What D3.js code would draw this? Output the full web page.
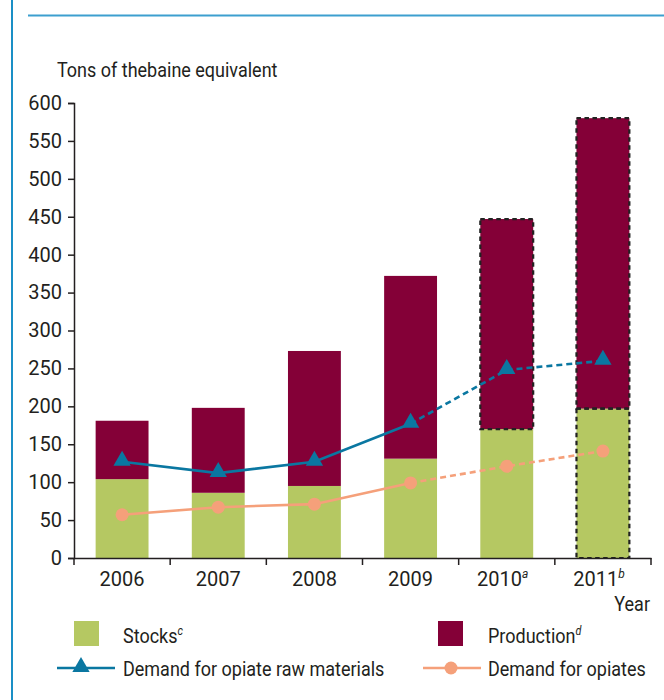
<!DOCTYPE html>
<html lang="en">
<head>
  <meta charset="UTF-8">
  <title>Thebaine raw materials</title>
  <script src="https://d3js.org/d3.v7.min.js"></script>
  <style>
    body { margin: 0; background: #fff; }
    svg text { font-family: "Liberation Sans Narrow", Roboto, "Liberation Sans", sans-serif; fill: #231f20; }
  </style>
</head>
<body>
  <svg width="664" height="700"></svg>

  <script>
    const years = ["2006", "2007", "2008", "2009", "2010", "2011"];
    const yearNotes = ["", "", "", "", "a", "b"];
    const stocks = [104, 86, 95, 131, 170, 197];
    const production = [77, 112, 178, 241, 277, 383];
    const demandRaw = [127, 112, 127, 177, 248, 260];
    const demandOpiates = [57, 67, 71, 99, 121, 141];
    const yTicks = [0, 50, 100, 150, 200, 250, 300, 350, 400, 450, 500, 550, 600];

    const green = "#b5c862", maroon = "#840037", blue = "#0a77a1", orange = "#f5a07a";
    const fs = "20px", sup = "12px";
    const squeeze = 0.9; // reference font is a condensed face

    const svg = d3.select("svg");

    // frame decoration
    svg.append("line").attr("x1", 12).attr("x2", 12).attr("y1", 0).attr("y2", 700)
      .attr("stroke", "#1a8fc6").attr("stroke-width", 2);
    svg.append("line").attr("x1", 28).attr("x2", 664).attr("y1", 15.5).attr("y2", 15.5)
      .attr("stroke", "#3c9fcf").attr("stroke-width", 2);

    const x = d3.scaleBand().domain(years).range([74, 651]).paddingInner(0.45).paddingOuter(0.225);
    const y = d3.scaleLinear().domain([0, 600]).range([558, 103]);

    const rows = years.map((yr, i) => ({
      year: yr, stocks: stocks[i], production: production[i],
      raw: demandRaw[i], opi: demandOpiates[i], note: yearNotes[i]
    }));

    // bars
    const g = svg.append("g");
    g.selectAll(".stock").data(rows).enter().append("rect")
      .attr("x", d => x(d.year)).attr("width", x.bandwidth())
      .attr("y", d => y(d.stocks)).attr("height", d => y(0) - y(d.stocks))
      .attr("fill", green);
    g.selectAll(".prod").data(rows).enter().append("rect")
      .attr("x", d => x(d.year)).attr("width", x.bandwidth())
      .attr("y", d => y(d.stocks + d.production)).attr("height", d => y(d.stocks) - y(d.stocks + d.production))
      .attr("fill", maroon);

    // dashed outlines for estimates
    const dash = { stroke: "#222", "stroke-width": 2.2, "stroke-dasharray": "4.5,3.5", fill: "none" };
    function outline(yr, lo, hi) {
      const r = g.append("rect")
        .attr("x", x(yr)).attr("width", x.bandwidth())
        .attr("y", y(hi)).attr("height", y(lo) - y(hi));
      Object.entries(dash).forEach(([k, v]) => r.attr(k, v));
    }
    outline("2010", stocks[4], stocks[4] + production[4]);
    outline("2011", 0, stocks[5]);
    outline("2011", stocks[5], stocks[5] + production[5]);

    // axes
    const yAxis = svg.append("g").attr("transform", "translate(74,0)")
      .call(d3.axisLeft(y).tickValues(yTicks).tickSize(6).tickPadding(6));
    const xAxis = svg.append("g").attr("transform", `translate(0,${y(0)})`)
      .call(d3.axisBottom(x).tickSize(0).tickFormat(""));
    [yAxis, xAxis].forEach(a => {
      a.select(".domain").attr("stroke", "#231f20").attr("stroke-width", 1.5);
      a.selectAll("line").attr("stroke", "#231f20").attr("stroke-width", 1.5);
    });
    yAxis.selectAll("text").style("font-size", fs).attr("fill", "#231f20");

    // x separators
    const bounds = years.map(yr => x(yr) - x.step() * x.paddingInner() / 2).concat([651]);
    xAxis.selectAll(".sep").data(bounds).enter().append("line")
      .attr("x1", d => d).attr("x2", d => d).attr("y1", 0).attr("y2", 7)
      .attr("stroke", "#231f20").attr("stroke-width", 1.5);

    const xl = svg.append("g").selectAll("text").data(rows).enter().append("text")
      .attr("x", d => x(d.year) + x.bandwidth() / 2 - (d.note ? 4 : 0))
      .attr("y", 586).attr("text-anchor", "middle").style("font-size", fs);
    xl.append("tspan").text(d => d.year);
    xl.append("tspan").attr("dy", -8).style("font-size", sup).style("font-style", "italic").text(d => d.note);

    // lines
    const cx = d => x(d.year) + x.bandwidth() / 2;
    function series(key, color) {
      const solid = rows.slice(0, 4), dashed = rows.slice(3);
      const ln = d3.line().x(cx).y(d => y(d[key]));
      svg.append("path").attr("d", ln(solid)).attr("fill", "none")
        .attr("stroke", color).attr("stroke-width", 2.6);
      svg.append("path").attr("d", ln(dashed)).attr("fill", "none")
        .attr("stroke", color).attr("stroke-width", 2.6).attr("stroke-dasharray", "6,4");
    }
    series("raw", blue);
    series("opi", orange);

    const tri = d3.symbol().type(d3.symbolTriangle).size(130);
    svg.selectAll(".tri").data(rows).enter().append("path")
      .attr("d", tri).attr("transform", d => `translate(${cx(d)},${y(d.raw) - 1})`).attr("fill", blue);
    svg.selectAll(".dot").data(rows).enter().append("circle")
      .attr("cx", cx).attr("cy", d => y(d.opi)).attr("r", 6.5).attr("fill", orange);

    // condensed text helper
    function label(xp, yp, str, note, anchor) {
      const t = svg.append("g").attr("transform", `translate(${xp},${yp}) scale(${squeeze},1)`)
        .append("text").attr("x", 0).attr("y", 0).style("font-size", fs)
        .attr("text-anchor", anchor || "start");
      t.append("tspan").text(str);
      if (note) t.append("tspan").attr("dy", -8).style("font-size", sup).style("font-style", "italic").text(note);
      return t;
    }

    label(57, 77, "Tons of thebaine equivalent");
    label(650, 611, "Year", null, "end");

    // legend
    svg.append("rect").attr("x", 74).attr("y", 621).attr("width", 25).attr("height", 25).attr("fill", green);
    label(123, 643, "Stocks", "c");
    svg.append("rect").attr("x", 438).attr("y", 621).attr("width", 25).attr("height", 25).attr("fill", maroon);
    label(488, 643, "Production", "d");

    svg.append("line").attr("x1", 57).attr("x2", 115).attr("y1", 668).attr("y2", 668).attr("stroke", blue).attr("stroke-width", 2.6);
    svg.append("path").attr("d", tri).attr("transform", "translate(81,667)").attr("fill", blue);
    label(123, 676, "Demand for opiate raw materials");
    svg.append("line").attr("x1", 423).attr("x2", 481).attr("y1", 668).attr("y2", 668).attr("stroke", orange).attr("stroke-width", 2.6);
    svg.append("circle").attr("cx", 451).attr("cy", 668).attr("r", 6.5).attr("fill", orange);
    label(488, 676, "Demand for opiates");
  </script>
</body>
</html>
